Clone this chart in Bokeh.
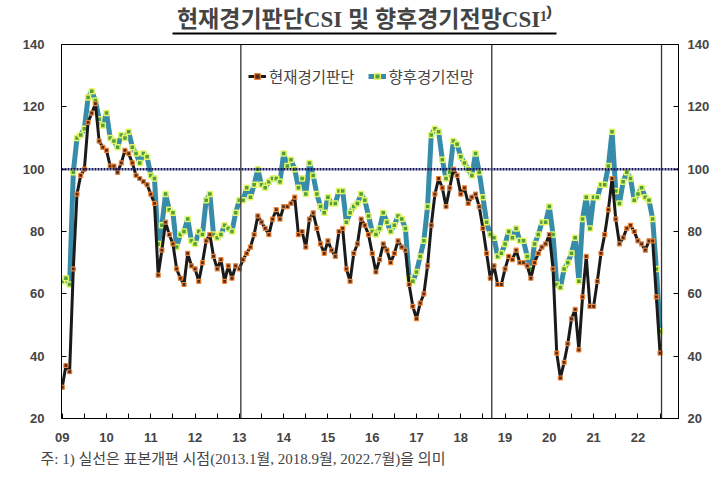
from bokeh.plotting import figure
from bokeh.layouts import column
from bokeh.models import (Range1d, LinearAxis, FixedTicker, Span, Legend, LegendItem,
                          Title, ColumnDataSource)
from bokeh.embed import file_html
from bokeh.resources import INLINE

# ---- data (monthly, 2009.01 - 2022.07) ----
start_year = 2009
year_labels = ["09", "10", "11", "12", "13", "14", "15", "16", "17", "18", "19", "20", "21", "22"]

current_csi = [
    30, 37, 35, 68, 92, 98, 100, 115, 118, 121, 109, 107, 106, 101, 101, 99, 102, 106, 105, 102, 98, 97, 96, 95, 92, 89, 66,
    74, 83, 79, 76, 68, 65, 63, 73, 69, 68, 64, 70, 77, 79, 72, 68, 71, 64, 69, 65, 69, 68, 71, 73, 75, 79, 85, 83,
    81, 79, 84, 87, 84, 88, 88, 89, 91, 79, 80, 75, 84, 86, 81, 76, 73, 77, 74, 72, 80, 81, 68, 64, 73, 76, 84, 82,
    79, 73, 67, 71, 76, 74, 70, 73, 77, 75, 74, 63, 56, 52, 57, 60, 69, 82, 92, 97, 94, 88, 94, 100, 98, 92, 94, 89,
    91, 92, 88, 81, 73, 65, 69, 63, 63, 68, 72, 71, 74, 70, 70, 69, 65, 70, 73, 75, 76, 79, 68, 41, 33, 38,
    44, 52, 55, 42, 59, 72, 56, 56, 64, 73, 79, 87, 97, 84, 76, 78, 81, 82, 80, 77, 76, 74, 77, 77, 59, 41,
]
future_csi = [
    64, 65, 63, 99, 110, 111, 113, 123, 125, 122, 116, 114, 118, 110, 109, 107, 111, 110, 112, 107, 105, 102, 105, 104, 98, 97, 76,
    82, 92, 87, 86, 75, 79, 80, 84, 77, 76, 80, 79, 90, 92, 79, 78, 79, 82, 81, 80, 86, 90, 90, 94, 91, 95, 100, 95,
    94, 96, 97, 97, 96, 105, 101, 103, 100, 94, 97, 92, 102, 98, 92, 88, 86, 91, 89, 89, 93, 93, 83, 86, 88, 89, 92, 90,
    85, 80, 79, 81, 86, 83, 80, 82, 85, 84, 81, 65, 64, 67, 72, 77, 88, 111, 113, 112, 103, 97, 99, 109, 108, 104, 102, 100,
    98, 105, 99, 91, 83, 79, 78, 72, 73, 76, 80, 78, 81, 77, 77, 72, 68, 76, 79, 83, 83, 88, 79, 63, 62, 68,
    70, 73, 78, 64, 84, 91, 81, 91, 91, 95, 95, 101, 112, 93, 89, 96, 99, 97, 90, 92, 94, 91, 90, 84, 68, 48,
]
revision_points = [(2013, 1), (2018, 9), (2022, 7)]
reference_level = 100

months = list(range(len(current_csi)))
src = ColumnDataSource(dict(m=months, cur=current_csi, fut=future_csi))

SERIF = "'Liberation Serif', 'Noto Sans CJK KR'"
SANS = "'Liberation Sans', 'Noto Sans CJK KR'"

# ---- title strip: its (black, 2px tall) frame acts as the title underline ----
head = figure(width=712, height=36, output_backend="svg", toolbar_location=None,
              x_axis_type=None, y_axis_type=None,
              min_border_left=172, min_border_right=156, min_border_top=32, min_border_bottom=2,
              title="현재경기판단CSI 및 향후경기전망CSI¹⁾")
head.frame_align = False
head.background_fill_color = "black"
head.border_fill_color = "white"
head.outline_line_color = None
head.xgrid.visible = False
head.ygrid.visible = False
head.title.align = "center"
head.title.text_font = SERIF
head.title.text_font_size = "23px"
head.title.text_font_style = "bold"
head.title.standoff = 1

# ---- main chart ----
p = figure(width=712, height=436, output_backend="svg", toolbar_location=None,
           x_range=Range1d(-0.2, 167), y_range=Range1d(20, 140),
           min_border_left=61, min_border_right=32, min_border_top=8, min_border_bottom=54)
p.frame_align = False
p.background_fill_color = "white"
p.border_fill_color = "white"
p.outline_line_color = "black"
p.outline_line_width = 1
p.xgrid.visible = False
p.ygrid.visible = False

# x axis
xa = p.xaxis[0]
year_ticks = [12 * k for k in range(len(year_labels))]
xa.ticker = FixedTicker(ticks=year_ticks, minor_ticks=[12 * k + 6 for k in range(len(year_labels))])
xa.major_label_overrides = {t: lab for t, lab in zip(year_ticks, year_labels)}
xa.major_tick_in = 5
xa.major_tick_out = 0
xa.minor_tick_in = 5
xa.minor_tick_out = 0
xa.major_label_standoff = 14
xa.major_label_text_font = SANS
xa.major_label_text_font_style = "bold"
xa.major_label_text_font_size = "13px"
xa.axis_line_color = "black"

# y axes
ya = p.yaxis[0]
ya.ticker = FixedTicker(ticks=[20, 40, 60, 80, 100, 120, 140])
ya.major_tick_in = 5
ya.major_tick_out = 0
ya.minor_tick_line_color = None
ya.major_label_standoff = 17
ya.major_label_text_font = SANS
ya.major_label_text_font_style = "bold"
ya.major_label_text_font_size = "13px"
ya.axis_line_color = "black"

ra = LinearAxis(ticker=FixedTicker(ticks=[20, 40, 60, 80, 100, 120, 140]))
ra.major_tick_in = 5
ra.major_tick_out = 0
ra.minor_tick_line_color = None
ra.major_label_standoff = 9
ra.major_label_text_font = SANS
ra.major_label_text_font_style = "bold"
ra.major_label_text_font_size = "13px"
ra.axis_line_color = "black"
p.add_layout(ra, "right")

# reference lines
p.add_layout(Span(location=reference_level, dimension="width", line_color="#16165e",
                  line_width=2.5, line_dash="2 1"))
for (yr, mo) in revision_points:
    p.add_layout(Span(location=(yr - start_year) * 12 + (mo - 1) + 0.4, dimension="height",
                      line_color="#333333", line_width=1.3))

# series
l_fut = p.line("m", "fut", source=src, line_color="#378ca9", line_width=5)
s_fut = p.scatter("m", "fut", source=src, marker="square", size=5,
                  fill_color="#4f9f3c", line_color="#e4f56a", line_width=1.5)
l_cur = p.line("m", "cur", source=src, line_color="#1a1a1a", line_width=3)
s_cur = p.scatter("m", "cur", source=src, marker="square", size=4,
                  fill_color="#5a2a10", line_color="#e8843c", line_width=1.2)

legend = Legend(items=[LegendItem(label="현재경기판단", renderers=[l_cur, s_cur]),
                       LegendItem(label="향후경기전망", renderers=[l_fut, s_fut])],
                orientation="horizontal", location=(187, 331),
                label_text_font="'Noto Sans CJK KR'", label_text_font_size="15.5px",
                border_line_color=None, background_fill_alpha=0,
                glyph_width=18, glyph_height=14, label_standoff=3, spacing=13,
                padding=0, margin=0)
p.add_layout(legend)

# footnote
note = Title(text="주: 1) 실선은 표본개편 시점(2013.1월, 2018.9월, 2022.7월)을 의미",
             align="left", text_font=SERIF, text_font_size="15px",
             text_font_style="normal", offset=-21, standoff=8)
p.add_layout(note, "below")

layout = column(head, p, spacing=0)
open("out.html", "w").write(file_html(layout, INLINE))
